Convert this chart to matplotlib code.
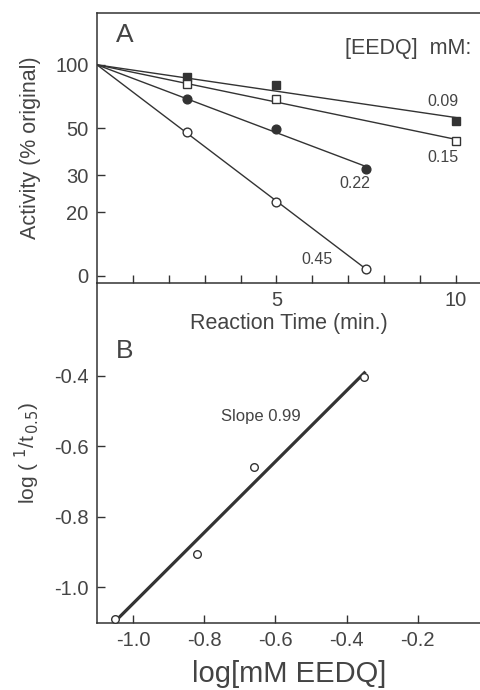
import numpy as np
import matplotlib
matplotlib.use("Agg")
import matplotlib.pyplot as plt

plt.rcParams['font.family'] = ['Liberation Sans', 'DejaVu Sans']

INK = "#333333"
TXT = "#444444"

# ---- panel A data: activity vs reaction time ----
conc_labels = ["0.09", "0.15", "0.22", "0.45"]
times_09 = [0, 2.5, 5, 10]
act_09 = [100, 87.7, 80, 54.3]
times_15 = [0, 2.5, 5, 10]
act_15 = [100, 81.3, 69, 43.6]
times_22 = [0, 2.5, 5, 7.5]
act_22 = [100, 69, 49.7, 32.1]
times_45 = [0, 2.5, 5, 7.5]
act_45 = [100, 48.1, 22.4, 10.8]

a_yticks = [100, 50, 30, 20, 10]
a_yticklabels = ["100", "50", "30", "20", "0"]
a_xticks = [1, 2, 3, 4, 5, 6, 7, 8, 9, 10]
a_xticklabels = ["", "", "", "", "5", "", "", "", "", "10"]

# ---- panel B data: log(1/t0.5) vs log[EEDQ] ----
log_eedq = [-1.05, -0.82, -0.66, -0.35]
log_inv_t = [-1.09, -0.906, -0.659, -0.403]
b_xticks = [-1.0, -0.8, -0.6, -0.4, -0.2]
b_yticks = [-0.4, -0.6, -0.8, -1.0]

W, H = 481, 690
fig = plt.figure(figsize=(W / 100, H / 100), dpi=100)

axB = fig.add_axes([97 / W, 1 - 623 / H, 1 - 97 / W, (623 - 283) / H])
axA = fig.add_axes([97 / W, 1 - 283 / H, 1 - 97 / W, (283 - 13) / H])
axB.patch.set_alpha(0)
axA.patch.set_alpha(0)

# ---------------- Panel A ----------------
series = [
    (times_09, act_09, "s", INK),
    (times_15, act_15, "s", "white"),
    (times_22, act_22, "o", INK),
    (times_45, act_45, "o", "white"),
]
for t, a, mk, fc in series:
    t = np.array(t, dtype=float)
    la = np.log10(np.array(a) / 100.0)
    # first-order decay line through 100 % at t = 0
    k = np.sum(t * la) / np.sum(t * t)
    tt = np.array([0, t.max()])
    axA.plot(tt, 100 * 10 ** (k * tt), color=INK, lw=1.0, zorder=2)
    axA.plot(t[1:], a[1:], ls="none", marker=mk, ms=6.3, mfc=fc,
             mec=INK, mew=1.0, zorder=3)

lab_pos = {"0.09": (9.64, 66.8), "0.15": (9.64, 36.2),
           "0.22": (7.19, 27.3), "0.45": (6.14, 12.0)}
for lab in conc_labels:
    x, y = lab_pos[lab]
    axA.text(x, y, lab, fontsize=11.5, color=TXT, ha="center", va="center")

axA.text(0.05, 0.92, "A", transform=axA.transAxes, fontsize=19,
         color=TXT, ha="left", va="center")
axA.text(10.42, 120, "[EEDQ]  mM:", fontsize=15.5, color=TXT,
         ha="right", va="center")

axA.set_yscale("log")
axA.set_xlim(0, 10.7)
axA.set_ylim(9.26, 176)
axA.set_yticks(a_yticks)
axA.set_yticklabels(a_yticklabels)
axA.yaxis.set_minor_locator(matplotlib.ticker.NullLocator())
axA.set_xticks(a_xticks)
axA.set_xticklabels(a_xticklabels)
axA.tick_params(direction="in", length=6, width=1.0, color=INK,
                labelcolor=TXT, labelsize=14.5, pad=6)
axA.set_ylabel("Activity (% original)", fontsize=15.5, color=TXT,
               labelpad=10)
axA.set_xlabel("Reaction Time (min.)", fontsize=15.5, color=TXT,
               labelpad=2)
axA.spines["right"].set_visible(False)
for s in ("left", "top", "bottom"):
    axA.spines[s].set_color(INK)
    axA.spines[s].set_linewidth(1.1)

# ---------------- Panel B ----------------
bx = np.array(log_eedq)
by = np.array(log_inv_t)
slope, icpt = np.polyfit(bx, by, 1)
lx = np.array([bx.min(), bx.max()])
axB.plot(lx, slope * lx + icpt, color=INK, lw=2.3, zorder=2)
axB.plot(bx, by, ls="none", marker="o", ms=5.5, mfc="white", mec=INK,
         mew=1.0, zorder=3)
axB.text(-0.64, -0.516, "Slope 0.99", fontsize=12, color=TXT,
         ha="center", va="center")
axB.text(0.05, 0.80, "B", transform=axB.transAxes, fontsize=19,
         color=TXT, ha="left", va="center")

axB.set_xlim(-1.101, -0.0225)
axB.set_ylim(-1.102, -0.136)
axB.set_xticks(b_xticks)
axB.set_xticklabels([f"{v:.1f}" for v in b_xticks])
axB.set_yticks(b_yticks)
axB.set_yticklabels([f"{v:.1f}" for v in b_yticks])
axB.tick_params(direction="in", length=6, width=1.0, color=INK,
                labelcolor=TXT, labelsize=14.5, pad=6)
axB.set_ylabel(r"log ( $^{1}$/t$_{\,0.5}$)", fontsize=15, color=TXT,
               labelpad=9)
axB.set_xlabel("log[mM EEDQ]", fontsize=21, color=TXT, labelpad=7)
axB.spines["right"].set_visible(False)
axB.spines["top"].set_visible(False)
for s in ("left", "bottom"):
    axB.spines[s].set_color(INK)
    axB.spines[s].set_linewidth(1.1)

fig.savefig("out.png", dpi=100)
